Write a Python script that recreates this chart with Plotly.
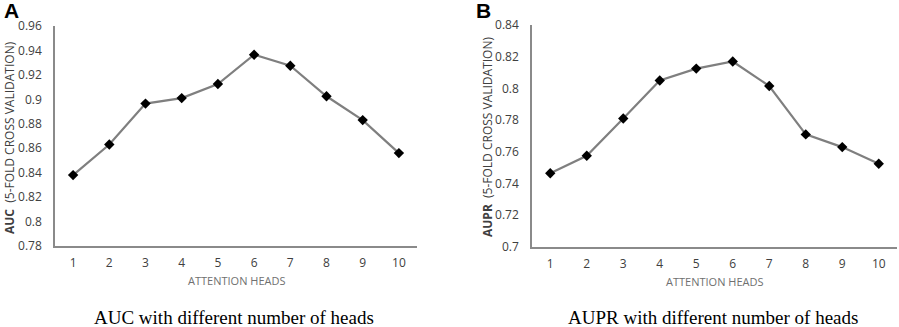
import plotly.graph_objects as go

heads = [1, 2, 3, 4, 5, 6, 7, 8, 9, 10]
auc = [0.838, 0.863, 0.8965, 0.901, 0.9125, 0.9365, 0.9275, 0.9025, 0.883, 0.856]
aupr = [0.7465, 0.7575, 0.781, 0.805, 0.8125, 0.817, 0.8015, 0.771, 0.763, 0.7525]
auc_ticks = [0.78, 0.8, 0.82, 0.84, 0.86, 0.88, 0.9, 0.92, 0.94, 0.96]
aupr_ticks = [0.7, 0.72, 0.74, 0.76, 0.78, 0.8, 0.82, 0.84]

W, H = 899, 327
fig = go.Figure()

line_style = dict(color="#7f7f7f", width=2.2)
marker_style = dict(symbol="diamond", size=8, color="#000000")

fig.add_trace(go.Scatter(x=heads, y=auc, mode="lines+markers", line=line_style,
                         marker=marker_style, xaxis="x", yaxis="y", showlegend=False))
fig.add_trace(go.Scatter(x=heads, y=aupr, mode="lines+markers", line=line_style,
                         marker=marker_style, xaxis="x2", yaxis="y2", showlegend=False))

tickfont = dict(family="Open Sans", size=12, color="#404040")
axis_common = dict(showgrid=False, zeroline=False, showline=True, linecolor="#8a8a8a",
                   linewidth=1.5, ticks="", tickfont=tickfont, automargin=False)

fig.update_layout(
    width=W, height=H,
    margin=dict(l=0, r=0, t=0, b=0, pad=0),
    paper_bgcolor="white", plot_bgcolor="white",
    xaxis=dict(domain=[55 / W, 417 / W], range=[0.5, 10.5], tickvals=heads,
               ticktext=[str(h) for h in heads], anchor="y", ticklabelstandoff=5,
               **axis_common),
    yaxis=dict(domain=[1 - 246 / H, 1 - 26 / H], range=[0.78, 0.96], tickvals=auc_ticks,
               ticktext=[f"{v:g}" for v in auc_ticks], anchor="x", ticklabelstandoff=9,
               **axis_common),
    xaxis2=dict(domain=[532 / W, 897 / W], range=[0.5, 10.5], tickvals=heads,
                ticktext=[str(h) for h in heads], anchor="y2", ticklabelstandoff=5,
                **axis_common),
    yaxis2=dict(domain=[1 - 247 / H, 1 - 25 / H], range=[0.7, 0.84], tickvals=aupr_ticks,
                ticktext=[f"{v:g}" for v in aupr_ticks], anchor="x2", ticklabelstandoff=9,
                **axis_common),
)

def px(x, y, text, size, family, color="#000", angle=0, xanchor="center", yanchor="middle"):
    fig.add_annotation(x=x / W, y=1 - y / H, xref="paper", yref="paper", text=text,
                       showarrow=False, textangle=angle, xanchor=xanchor, yanchor=yanchor,
                       font=dict(size=size, family=family, color=color))

# Panel letters
px(2, 11, "<b>A</b>", 21, "Liberation Sans", xanchor="left")
px(474, 11, "<b>B</b>", 21, "Liberation Sans", xanchor="left")

# Y-axis titles
px(9, 138, "<b>AUC</b>  (5-FOLD CROSS VALIDATION)", 12, "Open Sans", color="#404040", angle=-90)
px(487, 137, "<b>AUPR</b>  (5-FOLD CROSS VALIDATION)", 12, "Open Sans", color="#404040", angle=-90)

# X-axis titles
px(237, 280, "ATTENTION HEADS", 11, "Open Sans", color="#707070")
px(715, 281, "ATTENTION HEADS", 11, "Open Sans", color="#707070")

# Captions
px(234, 317, "AUC with different number of heads", 19, "Liberation Serif")
px(713, 317, "AUPR with different number of heads", 19, "Liberation Serif")

fig.write_html("out.html", config={"displayModeBar": False},
               post_script="document.body.style.margin='0';")
